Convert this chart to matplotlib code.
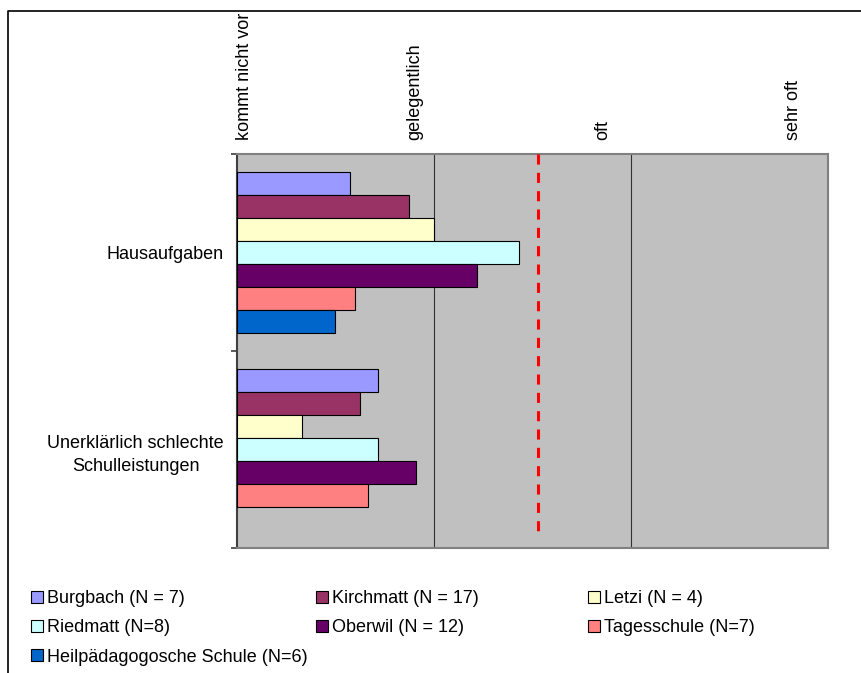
import numpy as np
import matplotlib
matplotlib.use("Agg")
import matplotlib.pyplot as plt
import matplotlib.transforms as mtransforms
from matplotlib.patches import Patch
from matplotlib.lines import Line2D

plt.rcParams['font.family'] = ['Liberation Sans', 'DejaVu Sans']

categories = ["Hausaufgaben", "Unerklärlich schlechte\nSchulleistungen"]
schools = ["Burgbach (N = 7)", "Kirchmatt (N = 17)", "Letzi (N = 4)",
           "Riedmatt (N=8)", "Oberwil (N = 12)", "Tagesschule (N=7)",
           "Heilpädagogosche Schule (N=6)"]
burgbach = [1.574, 1.716]
kirchmatt = [1.875, 1.625]
letzi = [2.0, 1.33]
riedmatt = [2.43, 1.716]
oberwil = [2.22, 1.91]
tagesschule = [1.60, 1.667]
heilpaed = [1.50, np.nan]
series = [burgbach, kirchmatt, letzi, riedmatt, oberwil, tagesschule, heilpaed]
colors = ["#9999FF", "#993366", "#FFFFCC", "#CCFFFF", "#660066", "#FF8080", "#0066CC"]
scale_values = [1, 2, 3, 4]
scale_labels = ["kommt nicht vor", "gelegentlich", "oft", "sehr oft"]
reference_value = 2.53

fig = plt.figure(figsize=(8.62, 6.73), dpi=100)
W, H = 862, 673
ax = fig.add_axes([237 / W, 1 - 548.3 / H, (828 - 237) / W, (548.3 - 154.3) / H])
ax.set_facecolor("#C0C0C0")

n = len(series)
bh = 0.117
ypos = np.arange(len(categories))
for j, (vals, c) in enumerate(zip(series, colors)):
    ax.barh(ypos + (j - (n - 1) / 2) * bh, np.array(vals) - scale_values[0], left=scale_values[0],
            height=bh, color=c, edgecolor="black", linewidth=0.8, zorder=3)

for v in scale_values[1:-1]:
    ax.axvline(v, color="#303030", linewidth=0.8, zorder=1)

ax.set_xlim(scale_values[0], scale_values[-1])
ax.set_ylim(len(categories) - 0.5, -0.5)

ax.plot([reference_value, reference_value], [-0.5, 1.44], color="#FF0000", linewidth=2.2,
        dashes=(3.3, 2.7), zorder=4, clip_on=False, solid_capstyle="butt", dash_capstyle="butt")

# spines
for s in ["top", "right", "bottom"]:
    ax.spines[s].set_color("#808080")
    ax.spines[s].set_linewidth(1.5)
ax.spines["left"].set_color("#404040")
ax.spines["left"].set_linewidth(1.5)

# y ticks: boundaries as major ticks, labels on minor ticks
ax.set_yticks(np.arange(-0.5, len(categories) + 0.5, 1.0))
ax.set_yticklabels([])
ax.set_yticks(ypos, minor=True)
ax.set_yticklabels(categories, minor=True, fontsize=13, multialignment="center", linespacing=1.45)
ax.tick_params(axis="y", which="major", length=4, width=1.2, color="#404040", direction="out")
ax.tick_params(axis="y", which="minor", length=0, pad=9.5)

# x labels on top, rotated
ax.xaxis.set_ticks_position("top")
ax.set_xticks(scale_values)
ax.set_xticklabels(scale_labels, rotation=90, fontsize=13)
ax.tick_params(axis="x", length=0, pad=10)
offsets_px = [8, -19, -28, -34]
for lbl, dx in zip(ax.get_xticklabels(), offsets_px):
    lbl.set_transform(lbl.get_transform() + mtransforms.ScaledTranslation(dx / 100, 0, fig.dpi_scale_trans))

# figure border (partially visible)
fx = 8 / W
fy = 1 - 11 / H
fig.add_artist(Line2D([fx, fx, 1.01], [-0.01, fy, fy], transform=fig.transFigure,
                      color="black", linewidth=1.2))

# legend in three columns
handles = [Patch(facecolor=c, edgecolor="black", linewidth=0.8) for c in colors]
cols = [[0, 3, 6], [1, 4], [2, 5]]
col_x = [31, 316, 588]
for idx, x in zip(cols, col_x):
    fig.legend([handles[i] for i in idx], [schools[i] for i in idx],
               loc="upper left", bbox_to_anchor=(x / W, 1 - 590 / H),
               frameon=False, fontsize=13, handlelength=0.65, handleheight=0.65,
               handletextpad=0.25, labelspacing=0.68, borderpad=0, borderaxespad=0)

fig.savefig("out.png", dpi=100)
